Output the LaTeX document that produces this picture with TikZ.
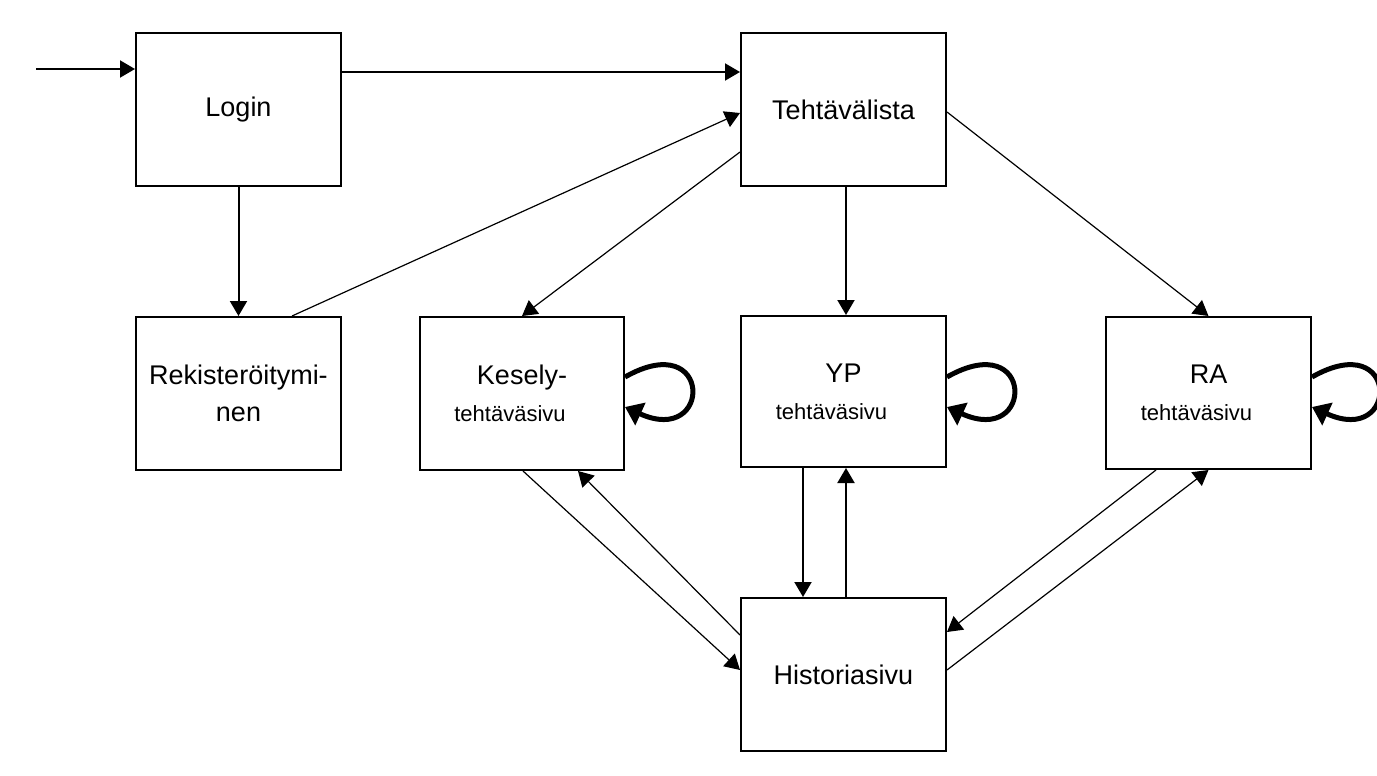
\documentclass[tikz,border=0pt]{standalone}
\usepackage{fontspec}
\setmainfont{Liberation Sans}
\usetikzlibrary{arrows.meta}
\begin{document}
\begin{tikzpicture}[x=1pt,y=-1pt,
  box/.style={draw,line width=2pt,rectangle,minimum width=205pt,minimum height=153pt,inner sep=0pt,align=center,font=\fontsize{27}{37}\selectfont},
  arr/.style={line width=2pt,-{Triangle[length=15pt,width=17pt]}},
  diag/.style={line width=1.2pt,-{Triangle[length=15pt,width=17pt]}},
  selfloop/.style={line width=5pt,-{Triangle[length=17pt,width=24pt]}}]
\useasboundingbox (0,0) rectangle (1377,776);
\fill[white] (0,0) rectangle (1377,776);
\node[box] (login) at (238.5,109.5) {Login};
\node[box] (teht) at (843.5,109.5) {Tehtävälista};
\node[box] (rek) at (238.5,393.5) {Rekisteröitymi-\\nen};
\node[box,minimum width=204pt] (kes) at (522,393.5) {Kesely-\\{\fontsize{22}{37}\selectfont tehtäväsivu\hspace*{24pt}}};
\node[box,minimum height=151pt] (yp) at (843.5,391.5) {YP\\{\fontsize{22}{37}\selectfont tehtäväsivu\hspace*{24pt}}};
\node[box,minimum height=152pt] (ra) at (1208.5,393) {RA\\{\fontsize{22}{37}\selectfont tehtäväsivu\hspace*{24pt}}};
\node[box] (hist) at (843.5,674.5) {Historiasivu};
\coordinate (start) at (36,69);
\draw[arr] (start) -- (start -| login.west);
\draw[arr] ([yshift=37.5pt]login.east) -- ([yshift=37.5pt]teht.west);
\draw[arr] (login.south) -- (rek.north);
\draw[diag] ([xshift=53.5pt]rek.north) -- ([yshift=-3.5pt]teht.west);
\draw[diag] ([yshift=-42.5pt]teht.west) -- (kes.north);
\draw[arr] ([xshift=2.5pt]teht.south) -- ([xshift=2.5pt]yp.north);
\draw[diag] ([yshift=-2.5pt]teht.east) -- (ra.north);
\draw[arr] ([xshift=-40.5pt]yp.south) -- ([xshift=-40.5pt]hist.north);
\draw[arr] ([xshift=2.5pt]hist.north) -- ([xshift=2.5pt]yp.south);
\draw[diag] ([xshift=1pt]kes.south) -- ([yshift=4.5pt]hist.west);
\draw[diag] ([yshift=39.5pt]hist.west) -- ([xshift=56pt]kes.south);
\draw[diag] ([xshift=-52.5pt]ra.south) -- ([yshift=42.5pt]hist.east);
\draw[diag] ([yshift=4.5pt]hist.east) -- (ra.south);
\draw[selfloop] ([yshift=16.5pt]kes.east) .. controls +(88,-50) and +(88,40) .. ([yshift=-13.5pt]kes.east);
\draw[selfloop] ([yshift=14.5pt]yp.east) .. controls +(88,-50) and +(88,40) .. ([yshift=-15.5pt]yp.east);
\draw[selfloop] ([yshift=16pt]ra.east) .. controls +(88,-50) and +(88,40) .. ([yshift=-14pt]ra.east);
\end{tikzpicture}
\end{document}
